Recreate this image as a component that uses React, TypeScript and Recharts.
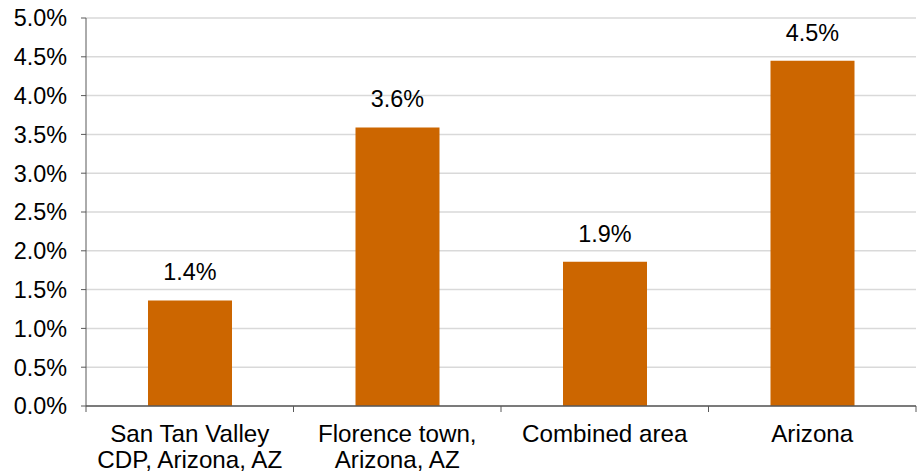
import React from "react";
import { BarChart, Bar, XAxis, YAxis, CartesianGrid, LabelList } from "recharts";

// Area names (multi-line labels split on "\n")
const categories: string[] = [
  "San Tan Valley\nCDP, Arizona, AZ",
  "Florence town,\nArizona, AZ",
  "Combined area",
  "Arizona",
];

// Percentage values per area
const values: number[] = [1.36, 3.59, 1.86, 4.45];

// Y-axis ticks (percent)
const yTicks: number[] = [0, 0.5, 1, 1.5, 2, 2.5, 3, 3.5, 4, 4.5, 5];

const data = categories.map((name, i) => ({ name, value: values[i] }));

const FONT = "'Liberation Sans', Arial, sans-serif";
const AXIS_COLOR = "#595959";
const BAR_COLOR = "#CC6600";

const fmtPct = (v: number) => `${(Math.round(v * 10) / 10).toFixed(1)}%`;

// Category tick: centered multi-line text plus tick marks at band boundaries
const CategoryTick = (props: any) => {
  const { x, y, payload, index, visibleTicksCount } = props;
  const half = payload?.offset ?? 0;
  const lines = String(payload.value).split("\n");
  const axisY = y - 8;
  return (
    <g>
      <line x1={x - half} x2={x - half} y1={axisY} y2={axisY + 6} stroke={AXIS_COLOR} strokeWidth={1} />
      {index === (visibleTicksCount ?? categories.length) - 1 && (
        <line x1={x + half} x2={x + half} y1={axisY} y2={axisY + 6} stroke={AXIS_COLOR} strokeWidth={1} />
      )}
      <text x={x} y={axisY + 36} textAnchor="middle" fontSize={24.2} fontFamily={FONT} fill="#000">
        {lines.map((ln, i) => (
          <tspan key={i} x={x} dy={i === 0 ? 0 : 26}>
            {ln}
          </tspan>
        ))}
      </text>
    </g>
  );
};

const ValueLabel = (props: any) => {
  const { x, y, width, value } = props;
  return (
    <text x={x + width / 2} y={y - 20} textAnchor="middle" fontSize={23.4} fontFamily={FONT} fill="#000">
      {fmtPct(value)}
    </text>
  );
};

export default function App() {
  return (
    <div style={{ position: "absolute", left: 0, top: 0, width: 923, height: 472 }}>
      <BarChart
        width={923}
        height={472}
        data={data}
        margin={{ top: 18, right: 7, bottom: 0, left: 0 }}
      >
        <CartesianGrid vertical={false} stroke="#d9d9d9" strokeWidth={1.5} />
        <XAxis
          dataKey="name"
          interval={0}
          height={66}
          axisLine={{ stroke: AXIS_COLOR, strokeWidth: 1.5 }}
          tickLine={false}
          tickSize={0}
          tickMargin={8}
          tick={<CategoryTick />}
        />
        <YAxis
          width={86}
          domain={[0, 5]}
          ticks={yTicks}
          interval={0}
          tickFormatter={(v: number) => `${v.toFixed(1)}%`}
          axisLine={{ stroke: AXIS_COLOR, strokeWidth: 1 }}
          tickLine={{ stroke: AXIS_COLOR }}
          tickSize={5}
          tickMargin={14}
          tick={{ fontSize: 23.4, fontFamily: FONT, fill: "#000" }}
        />
        <Bar dataKey="value" fill={BAR_COLOR} barSize={84} isAnimationActive={false}>
          <LabelList dataKey="value" content={<ValueLabel />} />
        </Bar>
      </BarChart>
    </div>
  );
}
